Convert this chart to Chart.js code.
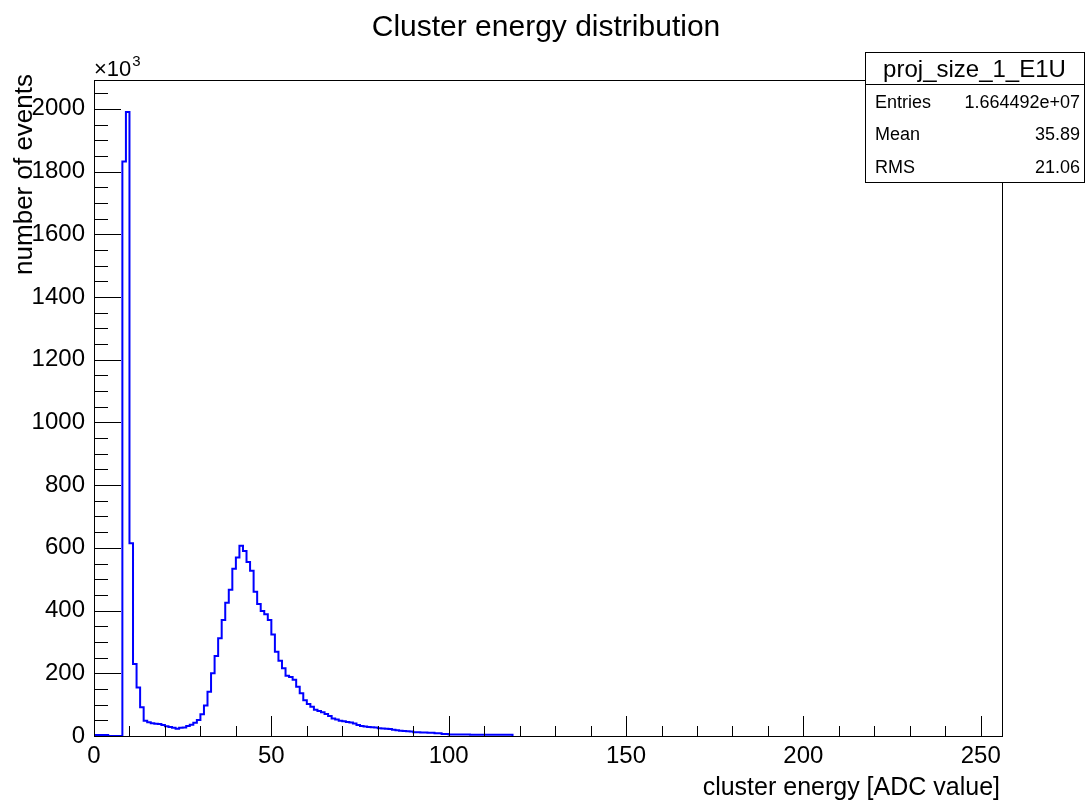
<!DOCTYPE html>
<html>
<head>
<meta charset="utf-8">
<script src="https://cdn.jsdelivr.net/npm/chart.js@4.4.1/dist/chart.umd.min.js"></script>
<style>
  html, body { margin: 0; padding: 0; background: #fff; }
  canvas { display: block; }
</style>
</head>
<body>
<canvas id="c" width="1086" height="805"></canvas>
<script>
// ---- data (bin contents in units of 10^3, bins of width 1 starting at 0) ----
const counts = [
  3, 3, 3, 3, 0, 0, 0, 0,
  1832, 1990, 615, 230, 155, 92, 49, 44, 41, 39, 38, 35,
  31, 29, 26, 23, 26, 27, 32, 36, 42, 51,
  69, 97, 141, 200, 255, 312, 370, 425, 466, 533,
  569, 607, 590, 555, 527, 460, 421, 399, 388, 370,
  324, 269, 240, 216, 192, 188, 179, 157, 136, 114,
  102, 93, 84, 80, 76, 70, 64, 56, 53, 49,
  47, 45, 43, 40, 35, 32, 30, 29, 28, 27,
  25, 24, 23, 22, 20, 18, 17, 16, 15, 14,
  12, 12, 11, 11, 10, 10, 9, 9, 6, 6,
  5, 5, 5, 5, 5, 5, 4, 4, 4, 4,
  4, 4, 4, 4, 4, 4, 4, 4
];
const xRange = [0, 256];
const yRange = [0, 2092];
const yTickStep = 200;
const xTickStep = 50;
const chartTitle = "Cluster energy distribution";
const xTitle = "cluster energy [ADC value]";
const yTitle = "number of events";
const statsName = "proj_size_1_E1U";
const statsLabels = ["Entries", "Mean", "RMS"];
const statsValues = ["1.664492e+07", "35.89", "21.06"];

const FONT = '"Liberation Sans", Arial, Helvetica, sans-serif';

// histogram outline points (left bin edges; horizontal then vertical)
const points = counts.map((v, i) => ({ x: i, y: v }));
points.push({ x: counts.length, y: 0 });

const rootDecor = {
  id: 'rootDecor',
  afterDraw(chart) {
    const ctx = chart.ctx;
    const xs = chart.scales.x, ys = chart.scales.y;
    const a = chart.chartArea;
    ctx.save();
    // frame
    ctx.strokeStyle = '#000';
    ctx.lineWidth = 1;
    ctx.strokeRect(Math.round(a.left) + 0.5, Math.round(a.top) + 0.5,
                   Math.round(a.right - a.left), Math.round(a.bottom - a.top));
    // y ticks (inward)
    ctx.beginPath();
    for (let v = yRange[0]; v <= yRange[1]; v += 50) {
      const py = Math.round(ys.getPixelForValue(v)) + 0.5;
      const len = (v % 200 === 0) ? 27 : 14;
      ctx.moveTo(a.left, py); ctx.lineTo(a.left + len, py);
    }
    // x ticks (inward)
    for (let v = xRange[0]; v <= xRange[1]; v += 10) {
      const px = Math.round(xs.getPixelForValue(v)) + 0.5;
      const len = (v % 50 === 0) ? 20 : 10;
      ctx.moveTo(px, a.bottom); ctx.lineTo(px, a.bottom - len);
    }
    ctx.stroke();

    ctx.fillStyle = '#000';
    // main title
    ctx.font = '30px ' + FONT;
    ctx.textAlign = 'center';
    ctx.textBaseline = 'alphabetic';
    ctx.fillText(chartTitle, 546, 36);
    // x title
    ctx.font = '25px ' + FONT;
    ctx.textAlign = 'right';
    ctx.fillText(xTitle, 1000, 795);
    // y title
    ctx.save();
    ctx.translate(32, 74);
    ctx.rotate(-Math.PI / 2);
    ctx.textAlign = 'right';
    ctx.font = '26px ' + FONT;
    ctx.fillText(yTitle, 0, 0);
    ctx.restore();
    // x10^3
    ctx.textAlign = 'left';
    ctx.font = '22px ' + FONT;
    ctx.fillText('\u00d710', 94, 76);
    const w = ctx.measureText('\u00d710').width;
    ctx.font = '15px ' + FONT;
    ctx.fillText('3', 94 + w + 1, 66);

    // stats box
    const bx = 865, by = 52, bw = 219, bh = 130;
    ctx.fillStyle = '#fff';
    ctx.fillRect(bx, by, bw, bh);
    ctx.strokeStyle = '#000';
    ctx.strokeRect(bx + 0.5, by + 0.5, bw, bh);
    ctx.beginPath();
    ctx.moveTo(bx, 84.5); ctx.lineTo(bx + bw, 84.5);
    ctx.stroke();
    ctx.fillStyle = '#000';
    ctx.font = '24px ' + FONT;
    ctx.textAlign = 'center';
    ctx.fillText(statsName, bx + bw / 2, 77);
    ctx.font = '18px ' + FONT;
    const rowY = [108, 140, 173];
    statsLabels.forEach((lab, i) => {
      ctx.textAlign = 'left';
      ctx.fillText(lab, 875, rowY[i]);
      ctx.textAlign = 'right';
      ctx.fillText(statsValues[i], 1080, rowY[i]);
    });
    ctx.restore();
  }
};

new Chart(document.getElementById('c'), {
  type: 'line',
  data: {
    datasets: [{
      data: points,
      stepped: 'before',
      borderColor: '#0000ff',
      borderWidth: 2,
      pointRadius: 0,
      fill: false,
      tension: 0
    }]
  },
  options: {
    responsive: false,
    devicePixelRatio: 1,
    animation: false,
    layout: { padding: { top: 80, right: 84, left: 0, bottom: 0 } },
    plugins: { legend: { display: false }, title: { display: false }, tooltip: { enabled: false } },
    scales: {
      x: {
        type: 'linear',
        min: xRange[0], max: xRange[1],
        grid: { display: false, drawTicks: false, tickLength: 0 },
        border: { display: false },
        ticks: {
          stepSize: xTickStep, includeBounds: false, color: '#000',
          font: { family: FONT, size: 24 }, padding: 6, maxRotation: 0,
          callback: v => String(v)
        },
        afterFit(s) { s.height = 69; }
      },
      y: {
        type: 'linear',
        min: yRange[0], max: yRange[1],
        grid: { display: false, drawTicks: false, tickLength: 0 },
        border: { display: false },
        ticks: {
          stepSize: yTickStep, includeBounds: false, color: '#000',
          font: { family: FONT, size: 24 }, padding: 9,
          callback: v => String(v)
        },
        afterFit(s) { s.width = 94; }
      }
    }
  },
  plugins: [rootDecor]
});
</script>
</body>
</html>
